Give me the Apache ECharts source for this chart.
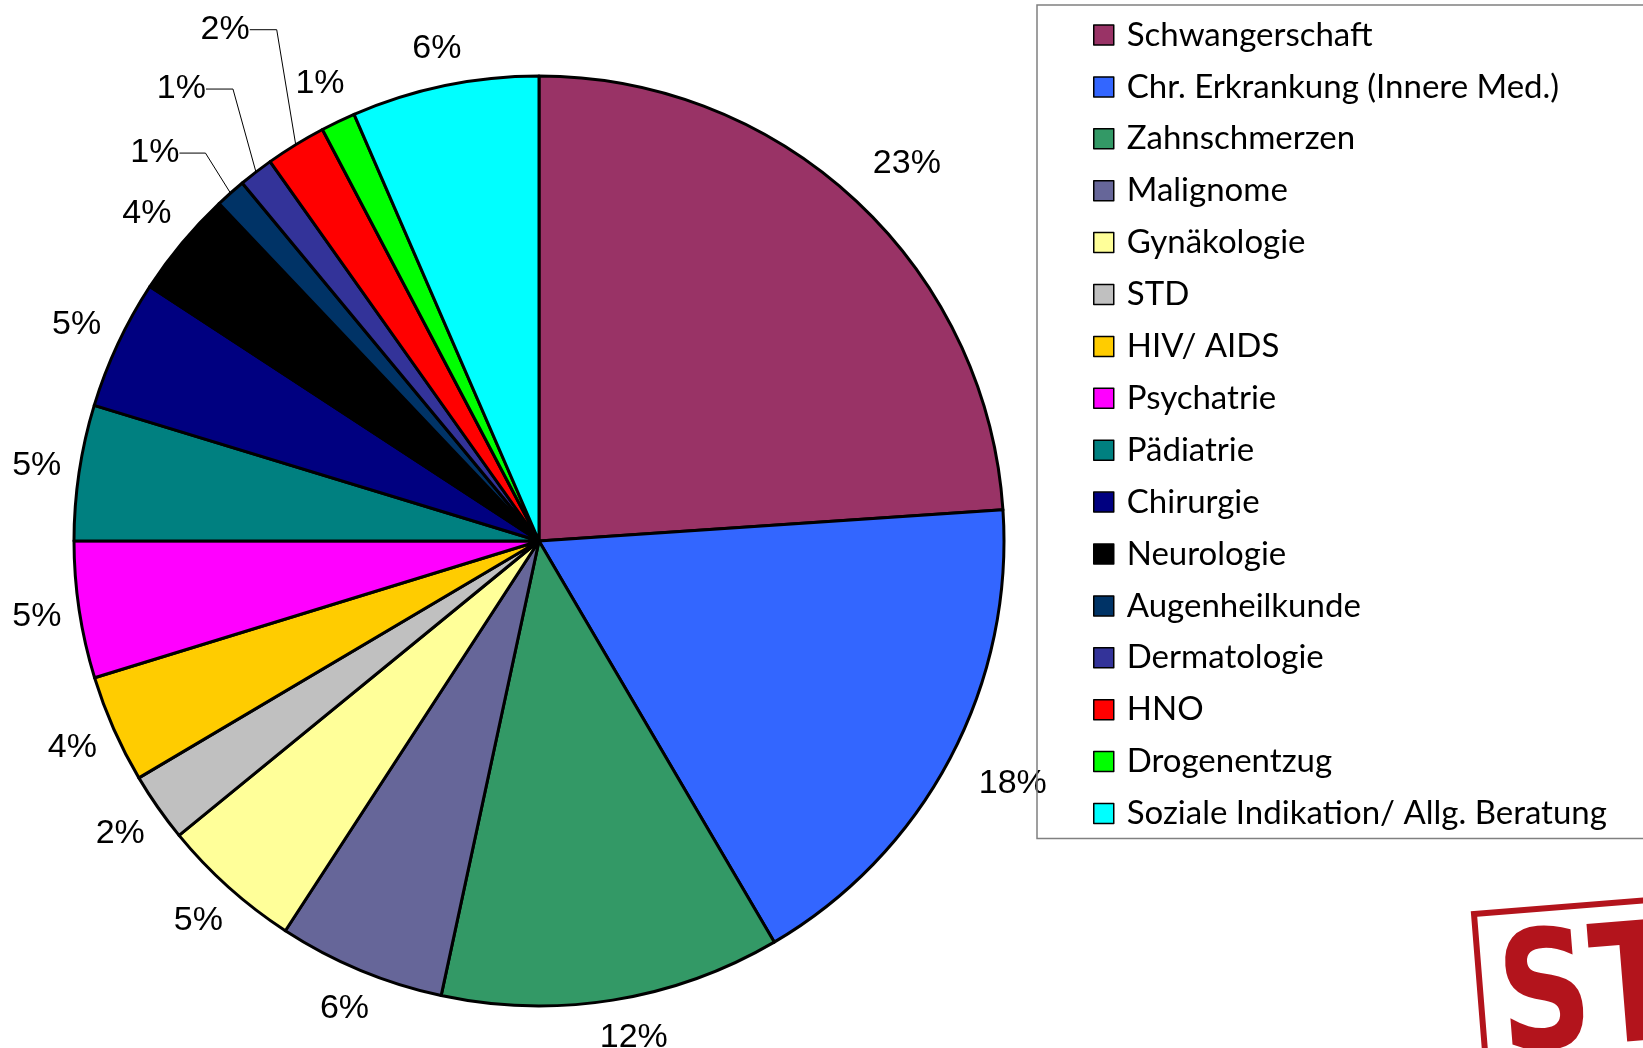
<!DOCTYPE html>
<html>
<head>
<meta charset="utf-8">
<script src="https://cdn.jsdelivr.net/npm/echarts@6/dist/echarts.min.js"></script>
<style>
html,body{margin:0;padding:0;background:#fff;}
#chart{width:1643px;height:1048px;}
</style>
</head>
<body>
<div id="chart"></div>
<script>
const categories = ['Schwangerschaft','Chr. Erkrankung (Innere Med.)','Zahnschmerzen','Malignome','Gynäkologie','STD','HIV/ AIDS','Psychatrie','Pädiatrie','Chirurgie','Neurologie','Augenheilkunde','Dermatologie','HNO','Drogenentzug','Soziale Indikation/ Allg. Beratung'];
const values = [23.9, 17.6, 11.8, 5.8, 4.9, 2.4, 3.75, 4.75, 4.7, 4.5, 3.7, 1.06, 1.2, 2.1, 1.2, 6.5];
const percentLabels = ['23%','18%','12%','6%','5%','2%','4%','5%','5%','5%','4%','1%','1%','2%','1%','6%'];
const colors = ['#993366','#3366FF','#339966','#666699','#FFFF99','#C0C0C0','#FFCC00','#FF00FF','#008080','#000080','#000000','#003366','#333399','#FF0000','#00FF00','#00FFFF'];

// styling / layout config
const CX = 539, CY = 541, R = 465, GAP = 16, RIGHT_SHIFT = 15;
const leaderLines = { // dataIndex -> [run, rise, len2]
  11: [25, 40, 26],
  12: [23, 83, 27],
  13: [19, 115, 27]
};

const total = values.reduce((a, b) => a + b, 0);
const midAngles = [];
let cum = 0;
values.forEach(v => { midAngles.push((cum + v / 2) / total * 2 * Math.PI); cum += v; });

const data = categories.map((name, i) => {
  const item = { name: name, value: values[i], itemStyle: { color: colors[i] } };
  if (leaderLines[i]) item.labelLine = { show: true };
  return item;
});

const chart = echarts.init(document.getElementById('chart'), null, { renderer: 'canvas' });
chart.setOption({
  backgroundColor: '#ffffff',
  animation: false,
  legend: {
    orient: 'vertical',
    left: 1037, top: 5,
    padding: [12, 260, 7, 56],
    borderColor: '#808080', borderWidth: 1.5,
    itemWidth: 20, itemHeight: 20, itemGap: 15.9,
    icon: 'rect',
    selectedMode: false,
    itemStyle: { borderColor: '#000', borderWidth: 1.5 },
    textStyle: { fontFamily: 'Lato', fontSize: 33, lineHeight: 36, color: '#000', padding: [0, 0, 0, 8] },
    data: categories
  },
  series: [{
    type: 'pie',
    center: [CX, CY],
    radius: R,
    startAngle: 90,
    clockwise: true,
    avoidLabelOverlap: false,
    itemStyle: { borderColor: '#000', borderWidth: 3 },
    label: {
      position: 'outside',
      fontFamily: 'Liberation Sans', fontSize: 34, color: '#000',
      formatter: p => percentLabels[p.dataIndex]
    },
    labelLine: { show: false, length: 30, length2: 0, lineStyle: { color: '#000', width: 1 } },
    emphasis: { disabled: true },
    labelLayout: function (p) {
      const i = p.dataIndex;
      const a = midAngles[i];
      const dx = Math.sin(a), dy = -Math.cos(a);
      const ex = CX + R * dx, ey = CY + R * dy;
      if (leaderLines[i]) {
        const [run, rise, len2] = leaderLines[i];
        const p2 = [ex - run, ey - rise];
        const p3 = [p2[0] - len2, p2[1]];
        return { x: p3[0], y: p3[1], align: 'right', verticalAlign: 'middle', labelLinePoints: [[ex, ey], p2, p3] };
      }
      const w = p.labelRect.width, h = p.labelRect.height;
      const half = Math.abs(dx) * w / 2 + Math.abs(dy) * h / 2;
      const d = GAP + half;
      return { x: ex + dx * d + (dx > 0 ? RIGHT_SHIFT : 0), y: ey + dy * d, align: 'center', verticalAlign: 'middle' };
    },
    data: data
  }],
  graphic: [{
    type: 'group',
    x: 1474, y: 914,
    rotation: 0.08,
    children: [
      { type: 'rect', shape: { x: 0, y: 0, width: 220, height: 200 }, style: { fill: 'none', stroke: '#b3141c', lineWidth: 6 } },
      { type: 'text', x: 18, y: 14, scaleX: 0.78, style: { text: 'ST', fill: '#b3141c', font: 'bold 165px "DejaVu Sans"', textVerticalAlign: 'top' } }
    ]
  }]
});
</script>
</body>
</html>
